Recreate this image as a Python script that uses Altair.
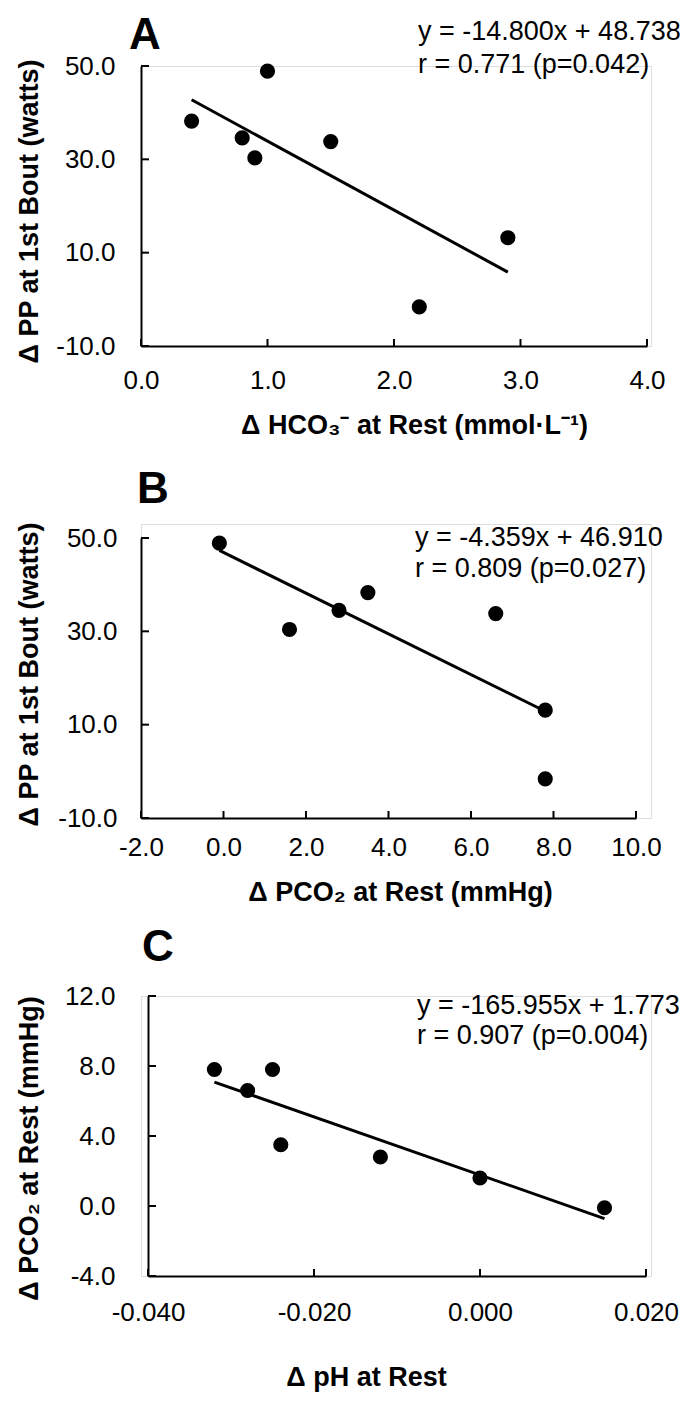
import altair as alt
import pandas as pd

# ---------------- data ----------------
# Panel A
a_x = [0.4, 0.8, 0.9, 1.0, 1.5, 2.2, 2.9]            # Δ HCO3- at rest
a_y = [38.2, 34.6, 30.3, 48.9, 33.8, -1.6, 13.2]     # Δ PP at 1st bout
a_xticks = [0.0, 1.0, 2.0, 3.0, 4.0]
a_yticks = [-10.0, 10.0, 30.0, 50.0]
a_eq = ["y = -14.800x + 48.738", "r = 0.771 (p=0.042)"]

# Panel B
b_x = [-0.1, 1.6, 2.8, 3.5, 6.6, 7.8, 7.8]           # Δ PCO2 at rest
b_y = [48.9, 30.4, 34.5, 38.3, 33.8, 13.1, -1.6]     # Δ PP at 1st bout
b_xticks = [-2.0, 0.0, 2.0, 4.0, 6.0, 8.0, 10.0]
b_yticks = [-10.0, 10.0, 30.0, 50.0]
b_eq = ["y = -4.359x + 46.910", "r = 0.809 (p=0.027)"]

# Panel C
c_x = [-0.032, -0.028, -0.025, -0.024, -0.012, 0.000, 0.015]   # Δ pH at rest
c_y = [7.8, 6.6, 7.8, 3.5, 2.8, 1.6, -0.1]                     # Δ PCO2 at rest
c_xticks = [-0.040, -0.020, 0.000, 0.020]
c_yticks = [-4.0, 0.0, 4.0, 8.0, 12.0]
c_eq = ["y = -165.955x + 1.773", "r = 0.907 (p=0.004)"]

FONT = "Liberation Sans"
W = 510


def lab(fmt):
    return "replace(format(datum.value, '%s'), '\u2212', '-')" % fmt


def panel(xs, ys, xt, yt, eq, letter, xtitle, ytitle, xdom, ydom, xfmt,
          xrange, H, yrange, yoff, ylabpad, ytitleX, ytitleY,
          xlabpad, xtitleX, xtitleY, letterXY, eqXY, eqLH):
    df = pd.DataFrame({"x": xs, "y": ys})
    xaxis = alt.Axis(
        values=xt, labelExpr=lab(xfmt), title=xtitle, grid=False, ticks=False, tickSize=0,
        domainColor="black", domainWidth=2, labelFont=FONT, labelFontSize=26,
        labelColor="black", labelPadding=xlabpad, labelBaseline="middle",
        labelFlush=False, labelOverlap=False,
        titleFont=FONT, titleFontSize=27, titleFontWeight="bold", titleColor="black",
        titleX=xtitleX, titleY=xtitleY, titleBaseline="middle", titleAlign="center",
    )
    yaxis = alt.Axis(
        values=yt, labelExpr=lab(".1f"), title=ytitle, grid=False, ticks=False, tickSize=0,
        domainColor="black", domainWidth=2, labelFont=FONT, labelFontSize=26,
        labelColor="black", labelPadding=ylabpad, labelFlush=False, labelOverlap=False,
        offset=yoff,
        titleFont=FONT, titleFontSize=27, titleFontWeight="bold", titleColor="black",
        titleX=ytitleX, titleY=ytitleY, titleBaseline="middle", titleAlign="center",
        titleAngle=270,
    )
    xs_ = alt.Scale(domain=xdom, range=xrange, zero=False, nice=False)
    ys_ = alt.Scale(domain=ydom, range=yrange, zero=False, nice=False)
    xenc = alt.X("x:Q", scale=xs_, axis=xaxis)
    yenc = alt.Y("y:Q", scale=ys_, axis=yaxis)

    pts = alt.Chart(df).mark_circle(size=230, color="black", opacity=1).encode(x=xenc, y=yenc)
    fit = alt.Chart(df).transform_regression("x", "y").mark_line(
        color="black", strokeWidth=3).encode(x=xenc, y=yenc)

    bottom = yrange[0]
    left = xrange[0]
    xtk = alt.Chart(pd.DataFrame({"x": xt})).mark_rule(color="black", strokeWidth=2).encode(
        x=xenc, y=alt.value(bottom), y2=alt.value(bottom - 7))
    ytk = alt.Chart(pd.DataFrame({"y": yt})).mark_rule(color="black", strokeWidth=2).encode(
        y=yenc, x=alt.value(left), x2=alt.value(left + 8))

    let = alt.Chart(pd.DataFrame({"t": [letter]})).mark_text(
        font=FONT, fontSize=44, fontWeight="bold", align="left", baseline="alphabetic",
        color="black").encode(x=alt.value(letterXY[0]), y=alt.value(letterXY[1]), text="t:N")
    eqt = alt.Chart(pd.DataFrame({"t": ["\n".join(eq)]})).mark_text(
        font=FONT, fontSize=27, align="left", baseline="alphabetic", color="black",
        lineBreak="\n", lineHeight=eqLH).encode(
        x=alt.value(eqXY[0]), y=alt.value(eqXY[1]), text="t:N")

    return alt.layer(fit, pts, xtk, ytk, let, eqt).properties(width=W, height=H)


A = panel(a_x, a_y, a_xticks, a_yticks, a_eq, "A",
          "Δ HCO₃⁻ at Rest (mmol·L⁻¹)", "Δ PP at 1st Bout (watts)",
          [0, 4], [-10, 50], ".1f",
          [0, 506], 280, [280, 0], 0, 26, -112, 145,
          34, 273, 79, (-12, -17), (277, -26), 33)

B = panel(b_x, b_y, b_xticks, b_yticks, b_eq, "B",
          "Δ PCO₂ at Rest (mmHg)", "Δ PP at 1st Bout (watts)",
          [-2, 10], [-10, 50], ".1f",
          [0, 495], 294, [294, 14], 0, 24, -112, 150,
          29, 259, 74, (-4, -21), (274, 22), 31)

C = panel(c_x, c_y, c_xticks, c_yticks, c_eq, "C",
          "Δ pH at Rest", "Δ PCO₂ at Rest (mmHg)",
          [-0.04, 0.02], [-4, 12], ".3f",
          [7, 505], 280, [280, 0], -7, 33, -119, 152,
          36, 225, 101, (1, -35), (276, 18), 30)

chart = alt.vconcat(A, B, C, spacing=178, bounds="flush").properties(
    padding={"left": 6, "top": 5, "right": 0, "bottom": 10}
).configure_view(stroke=None).configure(background="white")

chart.save("out.html", embed_options={"renderer": "svg", "actions": False})
